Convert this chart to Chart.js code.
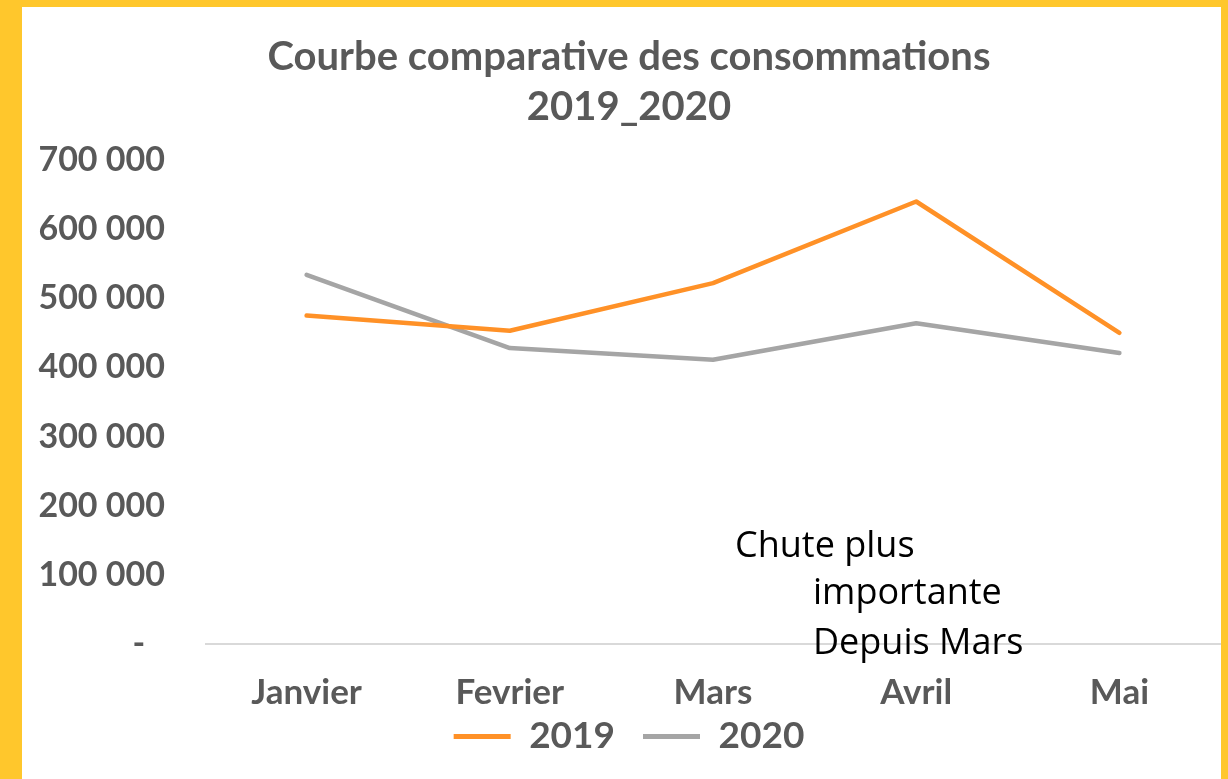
<!DOCTYPE html>
<html>
<head>
<meta charset="utf-8">
<script src="https://cdn.jsdelivr.net/npm/chart.js@4.4.1/dist/chart.umd.min.js"></script>
<style>
  html, body { margin: 0; padding: 0; background: #FFC72C; width: 1228px; height: 779px; overflow: hidden; }
  #wrap { position: absolute; left: 22px; top: 7px; width: 1199px; height: 772px; background: #ffffff; }
  canvas { display: block; }
</style>
</head>
<body>
<div id="wrap"><canvas id="c"></canvas></div>
<script>
const categories = ['Janvier', 'Fevrier', 'Mars', 'Avril', 'Mai'];
const values2019 = [475000, 453000, 522000, 640000, 450000];
const values2020 = [534000, 428000, 411000, 464000, 421000];
const yTickLabels = ['-', '100 000', '200 000', '300 000', '400 000', '500 000', '600 000', '700 000'];
const titleLines = ['Courbe comparative des consommations', '2019_2020'];
const noteLines = ['Chute plus', 'importante', 'Depuis Mars'];

const TXT = '#595959';

const notePlugin = {
  id: 'note',
  afterLayout(chart) {
    // let the category labels extend below the (shortened) x-axis box without being clipped
    const x = chart.scales.x;
    x.bottom = x.top + 80;
  },
  afterDraw(chart) {
    const ctx = chart.ctx;
    ctx.save();
    ctx.fillStyle = '#000000';
    ctx.font = '36px "Open Sans"';
    ctx.textBaseline = 'alphabetic';
    ctx.textAlign = 'left';
    ctx.fillText(noteLines[0], 713, 550);
    ctx.fillText(noteLines[1], 791, 597);
    ctx.fillText(noteLines[2], 791, 647);
    ctx.restore();
  }
};

new Chart(document.getElementById('c'), {
  type: 'line',
  data: {
    labels: categories,
    datasets: [
      { label: '2019', data: values2019, borderColor: '#FF9127', backgroundColor: '#FF9127', borderWidth: 4.5, pointRadius: 0, tension: 0, borderCapStyle: 'round', borderJoinStyle: 'round' },
      { label: '2020', data: values2020, borderColor: '#A5A5A5', backgroundColor: '#A5A5A5', borderWidth: 4.5, pointRadius: 0, tension: 0, borderCapStyle: 'round', borderJoinStyle: 'round' }
    ]
  },
  options: {
    responsive: true,
    maintainAspectRatio: false,
    animation: false,
    layout: { padding: { left: 15, right: 0, top: 18, bottom: 14 } },
    plugins: {
      title: {
        display: true,
        text: titleLines,
        color: TXT,
        font: { family: 'Lato', weight: 'bold', size: 40, lineHeight: 1.25 },
        padding: { top: 7, bottom: 28 }
      },
      legend: {
        position: 'bottom',
        labels: {
          color: TXT,
          font: { family: 'Lato', weight: 'bold', size: 37 },
          boxWidth: 57,
          boxHeight: 5,
          padding: 28,
          generateLabels(chart) {
            return Chart.defaults.plugins.legend.labels.generateLabels(chart).map(l => Object.assign(l, { lineWidth: 0 }));
          }
        }
      },
      tooltip: { enabled: false }
    },
    scales: {
      x: {
        offset: true,
        afterFit(scale) { scale.height = 46; },
        grid: { display: false, offset: true },
        border: { display: false },
        ticks: { color: TXT, font: { family: 'Lato', weight: 'bold', size: 35 }, padding: 20, maxRotation: 0 }
      },
      y: {
        min: 0,
        max: 700000,
        afterFit(scale) { scale.width = 168; },
        border: { display: false },
        grid: {
          drawTicks: false,
          lineWidth: 2,
          color: (c) => (c.tick && c.tick.value === 0 ? '#D9D9D9' : 'rgba(0,0,0,0)')
        },
        ticks: {
          stepSize: 100000,
          color: TXT,
          padding: 40,
          font: { family: 'Lato', weight: 'bold', size: 34 },
          callback: (v, i) => (i === 0 ? yTickLabels[i] + '\u2007' : yTickLabels[i])
        }
      }
    }
  },
  plugins: [notePlugin]
});
</script>
</body>
</html>
